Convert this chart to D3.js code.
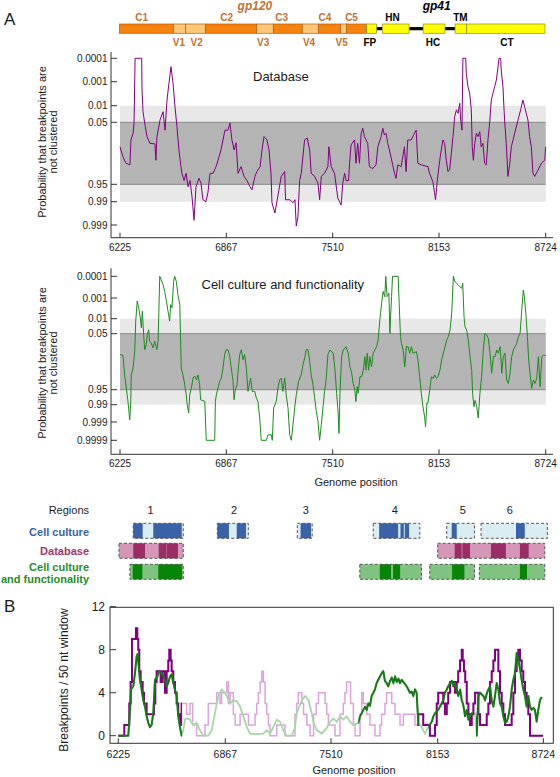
<!DOCTYPE html>
<html><head><meta charset="utf-8">
<script src="https://cdn.jsdelivr.net/npm/d3@7"></script>
<style>body{margin:0;background:#fff}svg{display:block;font-family:"Liberation Sans",Arial,sans-serif}</style>
</head><body><svg id="c" width="560" height="777"></svg>
<script>
// ---------------- DATA ----------------
const genomeTicks = [6225, 6867, 7510, 8153, 8724];
const probTicksA1 = [0.0001, 0.001, 0.01, 0.05, 0.95, 0.99, 0.999];
const probTicksA2 = [0.0001, 0.001, 0.01, 0.05, 0.95, 0.99, 0.999, 0.9999];
const countTicksB = [0, 4, 8, 12];

// gene map (genome positions)
const geneSegments = [
  ["C1",6221,6547,"C"],["V1",6547,6622,"V"],["V2",6622,6743,"V"],["C2",6743,7051,"C"],
  ["V3",7051,7151,"V"],["C3",7151,7326,"C"],["V4",7326,7423,"V"],["C4",7423,7558,"C"],
  ["V5",7558,7594,"V"],["C5",7594,7715,"C"],["FP",7715,7775,"G"],["HN",7811,7972,"G"],
  ["HC",8057,8185,"G"],["TM",8239,8301,"G"],["CT",8301,8720,"G"]
];
const geneLinks = [[7775,7811],[7972,8057],[8185,8239]];
const geneLabelsAbove = [["C1",6356,"gp120"],["C2",6869,"gp120"],["C3",7202,"gp120"],["C4",7463,"gp120"],["C5",7624,"gp120"],["HN",7872,"gp41"],["TM",8268,"gp41"]];
const geneLabelsBelow = [["V1",6581,"gp120"],["V2",6688,"gp120"],["V3",7090,"gp120"],["V4",7367,"gp120"],["V5",7564,"gp120"],["FP",7735,"gp41"],["HC",8117,"gp41"],["CT",8516,"gp41"]];
const proteinLabels = [["gp120",7040],["gp41",8139]];

// Panel A: probability that breakpoints are not clustered
const databaseProb = [[6225,0.35],[6243,0.58],[6261,0.72],[6285,0.75],[6291,0.22],[6304,0.13],[6310,0.053],[6316,0.0001],[6356,0.0001],[6358,0.0022],[6364,0.018],[6376,0.064],[6388,0.17],[6406,0.28],[6436,0.29],[6442,0.66],[6448,0.17],[6467,0.04],[6485,0.018],[6497,0.1],[6509,0.0058],[6521,0.0011],[6533,0.00023],[6545,0.0011],[6557,0.011],[6569,0.074],[6581,0.42],[6593,0.78],[6599,0.87],[6612,0.93],[6624,0.87],[6636,0.96],[6648,0.93],[6660,0.984],[6672,0.9984],[6684,0.96],[6702,0.915],[6714,0.944],[6726,0.988],[6744,0.99],[6756,0.977],[6769,0.87],[6787,0.87],[6805,0.78],[6817,0.66],[6835,0.42],[6847,0.22],[6859,0.1],[6877,0.1],[6889,0.053],[6901,0.22],[6914,0.42],[6926,0.27],[6938,0.87],[6956,0.78],[6974,0.9],[6992,0.93],[7010,0.96],[7022,0.97],[7040,0.9],[7052,0.85],[7071,0.78],[7083,0.42],[7095,0.17],[7113,0.22],[7125,0.42],[7137,0.87],[7143,0.991],[7161,0.9967],[7199,0.9],[7220,0.85],[7225,0.988],[7252,0.988],[7270,0.991],[7282,0.988],[7290,0.9991],[7300,0.9977],[7310,0.93],[7320,0.87],[7340,0.22],[7356,0.19],[7371,0.42],[7380,0.87],[7401,0.9],[7421,0.945],[7431,0.988],[7441,0.9],[7461,0.87],[7481,0.78],[7487,0.35],[7501,0.78],[7521,0.87],[7541,0.986],[7561,0.9928],[7571,0.945],[7582,0.87],[7591,0.93],[7606,0.93],[7612,0.72],[7621,0.31],[7642,0.22],[7651,0.72],[7661,0.28],[7672,0.72],[7682,0.13],[7692,0.085],[7702,0.17],[7722,0.28],[7732,0.78],[7752,0.81],[7772,0.75],[7783,0.35],[7803,0.17],[7813,0.085],[7823,0.15],[7833,0.13],[7843,0.28],[7853,0.42],[7873,0.75],[7884,0.87],[7893,0.915],[7904,0.75],[7924,0.78],[7944,0.35],[7954,0.85],[7964,0.22],[7984,0.22],[8005,0.13],[8015,0.1],[8025,0.72],[8045,0.75],[8086,0.78],[8096,0.87],[8116,0.937],[8126,0.977],[8132,0.988],[8142,0.937],[8157,0.66],[8165,0.42],[8174,0.22],[8183,0.28],[8192,0.66],[8201,0.85],[8210,0.83],[8219,0.5],[8228,0.17],[8237,0.029],[8246,0.015],[8255,0.021],[8264,0.0079],[8269,0.04],[8276,0.1],[8281,0.0001],[8296,0.0001],[8299,0.00044],[8308,0.0016],[8317,0.003],[8326,0.015],[8331,0.35],[8337,0.66],[8344,0.28],[8353,0.13],[8362,0.17],[8371,0.114],[8379,0.35],[8388,0.28],[8397,0.72],[8406,0.75],[8415,0.22],[8424,0.054],[8433,0.0058],[8442,0.003],[8451,0.0016],[8460,0.00085],[8469,0.00023],[8474,0.0001],[8483,0.0001],[8486,0.00032],[8495,0.0016],[8504,0.04],[8513,0.28],[8522,0.9],[8531,0.75],[8540,0.35],[8558,0.13],[8576,0.04],[8590,0.015],[8602,0.0058],[8611,0.011],[8620,0.021],[8629,0.04],[8638,0.17],[8647,0.35],[8656,0.87],[8665,0.9],[8683,0.83],[8701,0.72],[8719,0.66],[8724,0.35]];

const cultureFuncProb = [[6225,0.32],[6243,0.34],[6253,0.8],[6263,0.94],[6273,0.9855],[6284,0.99865],[6290,0.9855],[6293,0.8],[6304,0.66],[6314,0.25],[6320,0.013],[6329,0.0014],[6338,0.003],[6348,0.0093],[6354,0.027],[6360,0.0044],[6368,0.055],[6374,0.22],[6384,0.14],[6390,0.055],[6398,0.033],[6404,0.105],[6414,0.123],[6424,0.19],[6435,0.105],[6448,0.22],[6455,0.105],[6465,0.0001],[6485,0.00024],[6495,0.00049],[6505,0.0014],[6515,0.0044],[6525,0.013],[6531,0.0021],[6539,0.003],[6549,0.00017],[6555,0.0001],[6565,0.00017],[6575,0.0007],[6586,0.0021],[6595,0.66],[6605,0.8],[6616,0.918],[6625,0.971],[6631,0.99],[6640,0.9967],[6646,0.971],[6656,0.94],[6666,0.85],[6676,0.82],[6686,0.87],[6696,0.8],[6706,0.918],[6712,0.983],[6737,0.9855],[6746,0.9999],[6797,0.9999],[6801,0.9855],[6807,0.971],[6817,0.94],[6827,0.887],[6837,0.85],[6847,0.66],[6857,0.32],[6867,0.22],[6877,0.22],[6888,0.36],[6897,0.66],[6908,0.887],[6914,0.983],[6921,0.95],[6932,0.918],[6938,0.73],[6948,0.32],[6958,0.22],[6968,0.45],[6978,0.32],[6988,0.66],[6998,0.958],[7014,0.85],[7024,0.958],[7039,0.958],[7048,0.979],[7058,0.9855],[7069,0.9983],[7078,0.9999],[7109,0.9999],[7119,0.9998],[7139,0.9998],[7145,0.9999],[7153,0.9936],[7169,0.9855],[7179,0.94],[7190,0.87],[7199,0.85],[7209,0.958],[7220,0.85],[7229,0.971],[7240,0.9936],[7250,0.9998],[7260,0.9999],[7270,0.9993],[7280,0.9936],[7290,0.971],[7304,0.887],[7320,0.8],[7330,0.58],[7341,0.4],[7350,0.22],[7361,0.22],[7371,0.49],[7380,0.8],[7391,0.918],[7401,0.979],[7411,0.9958],[7421,0.9989],[7431,0.9999],[7441,0.9993],[7451,0.9936],[7461,0.958],[7471,0.85],[7481,0.32],[7493,0.226],[7513,0.29],[7524,0.71],[7534,0.966],[7543,0.9968],[7548,0.99976],[7554,0.966],[7564,0.37],[7574,0.226],[7590,0.171],[7604,0.29],[7614,0.63],[7625,0.77],[7634,0.907],[7644,0.951],[7650,0.986],[7658,0.933],[7664,0.966],[7675,0.83],[7685,0.83],[7695,0.71],[7705,0.37],[7711,0.71],[7719,0.29],[7727,0.71],[7735,0.37],[7745,0.63],[7755,0.29],[7765,0.226],[7775,0.171],[7785,0.093],[7795,0.0115],[7806,0.0018],[7815,0.0005],[7825,0.00087],[7831,0.0001],[7839,0.00087],[7850,0.0006],[7856,0.048],[7866,0.00087],[7872,0.0001],[7906,0.0001],[7912,0.0018],[7920,0.067],[7926,0.126],[7936,0.226],[7946,0.63],[7956,0.171],[7966,0.171],[7976,0.29],[7986,0.171],[7996,0.29],[8017,0.26],[8026,0.456],[8036,0.83],[8046,0.966],[8056,0.9923],[8066,0.998],[8072,0.99945],[8080,0.988],[8086,0.988],[8097,0.951],[8107,0.83],[8117,0.852],[8127,0.8],[8137,0.852],[8147,0.83],[8158,0.71],[8167,0.456],[8176,0.29],[8185,0.171],[8194,0.093],[8203,0.067],[8212,0.034],[8221,0.0055],[8230,0.0001],[8239,0.00018],[8256,0.00025],[8274,0.00036],[8280,0.00021],[8287,0.008],[8292,0.024],[8301,0.034],[8310,0.093],[8319,0.37],[8328,0.71],[8333,0.966],[8340,0.9923],[8346,0.984],[8355,0.9923],[8363,0.9983],[8372,0.966],[8381,0.83],[8390,0.226],[8399,0.048],[8408,0.057],[8417,0.08],[8426,0.29],[8435,0.77],[8444,0.37],[8453,0.37],[8462,0.226],[8470,0.29],[8480,0.171],[8489,0.77],[8497,0.37],[8506,0.29],[8515,0.873],[8524,0.907],[8533,0.77],[8542,0.37],[8551,0.226],[8560,0.171],[8569,0.126],[8578,0.067],[8587,0.048],[8596,0.0038],[8604,0.00043],[8610,0.00087],[8619,0.008],[8626,0.067],[8633,0.456],[8640,0.77],[8649,0.943],[8658,0.873],[8667,0.907],[8676,0.852],[8685,0.37],[8694,0.933],[8703,0.37],[8712,0.34],[8724,0.34]];

// Regions (genome positions; dark = strongly clustered parts)
const regionNumbers = [["1",6410],["2",6914],["3",7347],["4",7886],["5",8281],["6",8532]];
const cellCultureRegions = [
  {start:6305,end:6607,dark:[[6305,6362],[6426,6598]]},
  {start:6813,end:7000,dark:[[6813,6883],[6930,6986]]},
  {start:7296,end:7386,dark:[[7316,7379]]},
  {start:7755,end:8037,dark:[[7791,7906],[7920,7940],[7946,7972]]},
  {start:8194,end:8343,dark:[[8221,8248]]},
  {start:8378,end:8733,dark:[[8565,8612]]}
];
const databaseRegions = [
  {start:6219,end:6607,dark:[[6305,6376],[6459,6505],[6507,6575]]},
  {start:8145,end:8719,dark:[[8237,8274],[8278,8319],[8431,8511],[8586,8633]]}
];
const cultureFuncRegions = [
  {start:6285,end:6607,dark:[[6302,6360],[6456,6599]]},
  {start:7674,end:8047,dark:[[7795,7863],[7875,7918]]},
  {start:8097,end:8343,dark:[[8223,8289]]},
  {start:8369,end:8719,dark:[[8586,8624]]}
];

// Panel B: breakpoints per 50 nt window
const databaseCounts = [[6225,0],[6259,0],[6261,1],[6285,1],[6291,3],[6299,5],[6307,9],[6325,9],[6331,10],[6339,9],[6345,8],[6351,6],[6359,5],[6371,4],[6379,3],[6395,2],[6435,2],[6439,3],[6447,5],[6455,6],[6471,6],[6479,5],[6491,6],[6505,4],[6515,6],[6525,7],[6531,8],[6539,7],[6545,6],[6555,5],[6565,4],[6575,3],[6585,2],[6595,1],[6605,3],[6625,3],[6635,2],[6645,2],[6655,3],[6671,1],[6695,0],[6735,0],[6745,1],[6765,3],[6805,3],[6815,4],[6835,3],[6845,4],[6865,4],[6876,5],[6886,3],[6896,4],[6916,2],[6927,1],[6947,1],[6957,2],[6998,2],[7008,1],[7038,1],[7048,2],[7058,3],[7068,4],[7079,5],[7089,6],[7099,5],[7109,3],[7119,2],[7129,1],[7139,0],[7170,0],[7180,1],[7220,1],[7230,0],[7281,0],[7291,2],[7301,3],[7311,4],[7333,3],[7343,2],[7363,1],[7383,0],[7404,2],[7420,3],[7434,4],[7464,4],[7474,3],[7484,2],[7494,1],[7534,0],[7554,0],[7564,2],[7584,3],[7594,4],[7604,5],[7624,5],[7628,3],[7645,1],[7655,0],[7675,0],[7685,2],[7695,4],[7705,3],[7725,2],[7745,1],[7765,1],[7775,0],[7795,0],[7805,1],[7815,2],[7835,3],[7845,4],[7866,4],[7876,3],[7896,2],[7926,1],[7936,1],[7946,2],[8006,2],[8016,1],[8036,2],[8046,2],[8066,1],[8096,1],[8106,0],[8126,0],[8137,1],[8147,3],[8156,4],[8175,4],[8183,3],[8192,2],[8202,3],[8210,4],[8220,5],[8237,5],[8247,4],[8256,5],[8264,6],[8274,7],[8283,8],[8288,7],[8295,6],[8302,5],[8310,3],[8319,2],[8328,1],[8337,2],[8346,3],[8355,4],[8364,4],[8373,2],[8382,1],[8400,1],[8418,2],[8427,3],[8436,5],[8445,6],[8454,7],[8463,8],[8472,8],[8481,6],[8490,4],[8499,3],[8508,2],[8517,1],[8544,1],[8553,2],[8562,4],[8571,6],[8580,7],[8589,8],[8598,7],[8607,6],[8616,5],[8625,4],[8634,3],[8643,2],[8652,0],[8724,0]];

const cultureFuncCounts = [[6225,0],[6285,0],[6295,2.4],[6301,4.3],[6315,4.6],[6325,5.8],[6335,7.4],[6341,7.6],[6349,6.2],[6355,5.2],[6365,4.3],[6375,3.3],[6385,2.7],[6395,1.8],[6405,1.2],[6415,0.8],[6425,1.0],[6435,2.1],[6445,5.2],[6459,5.5],[6471,6.0],[6485,5.8],[6495,5.5],[6505,5.2],[6515,4.6],[6525,4.9],[6535,5.5],[6545,5.7],[6555,4.9],[6565,4.3],[6575,3.7],[6585,1.8],[6595,0.8],[6605,0],[6615,0.5],[6625,1.5],[6635,1.6],[6655,1.5],[6665,1.2],[6675,1.0],[6695,1.2],[6715,0.5],[6735,0],[6765,0],[6785,0.5],[6805,2.1],[6825,3.7],[6845,4.3],[6859,4.1],[6876,3.7],[6896,3.0],[6916,3.3],[6937,3.2],[6957,2.7],[6977,1.8],[6998,0.8],[7018,0.2],[7058,0.15],[7099,0.2],[7119,0.5],[7139,0.2],[7159,0.8],[7180,1.5],[7200,1.3],[7220,0.5],[7240,0],[7271,0],[7291,0.8],[7301,2.1],[7333,3.3],[7353,3.7],[7373,3.3],[7393,2.1],[7404,1.2],[7424,0.5],[7454,0.2],[7484,0.7],[7504,1.3],[7524,1.6],[7544,1.3],[7564,1.8],[7584,1.5],[7604,1.8],[7624,1.3],[7645,1.0],[7675,1.2],[7685,1.8],[7695,2.1],[7705,2.4],[7715,2.7],[7725,2.4],[7735,3.0],[7745,2.8],[7755,3.7],[7765,4.0],[7775,4.3],[7785,4.9],[7795,5.2],[7805,5.5],[7815,5.8],[7825,6.0],[7835,5.1],[7845,4.9],[7855,4.6],[7866,5.1],[7876,5.4],[7886,4.9],[7896,5.5],[7906,5.0],[7916,5.3],[7926,4.9],[7936,5.2],[7956,4.8],[7966,4.6],[7976,4.3],[7986,4.0],[7996,4.1],[8006,3.7],[8016,4.3],[8026,4.0],[8036,1.2],[8056,0.8],[8076,0.2],[8086,0.5],[8096,0.8],[8117,1.3],[8127,1.8],[8137,2.1],[8156,2.4],[8165,2.7],[8183,3.3],[8192,4.0],[8202,4.3],[8210,4.6],[8220,4.9],[8229,5.1],[8237,4.6],[8247,4.9],[8256,4.3],[8264,3.7],[8274,4.3],[8283,3.3],[8291,2.9],[8301,1.8],[8310,2.4],[8319,1.5],[8328,1.8],[8337,2.1],[8355,2.1],[8364,0],[8373,3.7],[8382,4.0],[8400,3.7],[8409,3.3],[8418,3.9],[8427,4.3],[8436,4.6],[8445,3.3],[8454,2.7],[8463,3.7],[8472,4.9],[8481,4.3],[8490,3.0],[8499,2.7],[8508,1.8],[8517,1.2],[8526,1.3],[8535,1.8],[8544,2.7],[8553,4.3],[8562,5.2],[8571,5.8],[8580,7.7],[8589,7.1],[8598,6.2],[8607,5.2],[8616,4.3],[8625,3.7],[8634,2.7],[8643,3.7],[8652,2.7],[8661,2.4],[8670,2.6],[8679,2.4],[8688,1.3],[8697,2.4],[8706,3.3],[8715,3.6]];

// genome windows where the B curves are drawn in the strong colour
const databaseStrongWindows = [[6219,6607],[8030,8724]];
const cultureFuncStrongWindows = [[6225,6607],[7674,8040],[8097,8346],[8360,8724]];

// ---------------- DRAWING ----------------
const svg = d3.select("#c");
const logit = p => Math.log(p / (1 - p));
const xA = d3.scaleLinear().domain(genomeTicks).range([120, 226.3, 332.7, 439, 545.7]);
const xB = d3.scaleLinear().domain(genomeTicks).range([118.3, 225.3, 331, 437.7, 543.3]);
const yA1lin = d3.scaleLinear().domain(probTicksA1.map(logit)).range([58.3, 81.7, 105.7, 122.3, 184.3, 201.7, 225]);
const yA2lin = d3.scaleLinear().domain(probTicksA2.map(logit)).range([276.3, 298, 318.7, 333.7, 389.7, 404.7, 422, 440.3]);
const yA1 = p => yA1lin(logit(p));
const yA2 = p => yA2lin(logit(p));
const yB = d3.scaleLinear().domain([0, 12]).range([735.7, 606.7]);

const AXIS = "#333";
const TXT = "#1a1a1a";
const BROWN = "#c07232";

// panel letters
svg.append("text").attr("x", 4).attr("y", 25).attr("font-size", 17).attr("fill", TXT).text("A");
svg.append("text").attr("x", 4).attr("y", 612).attr("font-size", 17).attr("fill", TXT).text("B");

// ---- gene map ----
const gm = svg.append("g");
const barTop = 24, barH = 9.3;
gm.selectAll("line.link").data(geneLinks).join("line")
  .attr("x1", d => xA(d[0])).attr("x2", d => xA(d[1]))
  .attr("y1", barTop + barH / 2).attr("y2", barTop + barH / 2)
  .attr("stroke", "#000").attr("stroke-width", 3.2);
const segFill = { C: "#f7830f", V: "#fdc878", G: "#ffff00" };
const segStroke = { C: "#b25b12", V: "#b25b12", G: "#8c8c2a" };
gm.selectAll("rect.seg").data(geneSegments).join("rect")
  .attr("x", d => xA(d[1])).attr("width", d => xA(d[2]) - xA(d[1]))
  .attr("y", barTop).attr("height", barH)
  .attr("fill", d => segFill[d[3]]).attr("stroke", d => segStroke[d[3]]).attr("stroke-width", 0.7);
gm.selectAll("text.ab").data(geneLabelsAbove).join("text")
  .attr("x", d => xA(d[1])).attr("y", 21).attr("text-anchor", "middle")
  .attr("font-size", 10).attr("font-weight", "bold")
  .attr("fill", d => d[2] === "gp120" ? BROWN : "#000").text(d => d[0]);
gm.selectAll("text.be").data(geneLabelsBelow).join("text")
  .attr("x", d => xA(d[1])).attr("y", 46).attr("text-anchor", "middle")
  .attr("font-size", 10).attr("font-weight", "bold")
  .attr("fill", d => d[2] === "gp120" ? BROWN : "#000").text(d => d[0]);
gm.selectAll("text.pr").data(proteinLabels).join("text")
  .attr("x", d => xA(d[1])).attr("y", 9.5).attr("text-anchor", "middle")
  .attr("font-size", 12).attr("font-weight", "bold").attr("font-style", "italic")
  .attr("fill", d => d[0] === "gp120" ? BROWN : "#000").text(d => d[0]);

// ---- probability panels ----
function probPanel(yf, ticks, data, color, axisTop, axisBottom, title, titleX, titleY, labelCenterY) {
  const g = svg.append("g");
  const x0 = xA(genomeTicks[0]), x1 = xA(genomeTicks[genomeTicks.length - 1]);
  g.append("rect").attr("x", x0).attr("width", x1 - x0)
    .attr("y", yf(0.01)).attr("height", yf(0.99) - yf(0.01)).attr("fill", "#e8e8e8");
  g.append("rect").attr("x", x0).attr("width", x1 - x0)
    .attr("y", yf(0.05)).attr("height", yf(0.95) - yf(0.05)).attr("fill", "#b4b4b4");
  [0.05, 0.95].forEach(p => g.append("line").attr("x1", x0).attr("x2", x1)
    .attr("y1", yf(p)).attr("y2", yf(p)).attr("stroke", "#8a8a8a").attr("stroke-width", 1));
  const line = d3.line().x(d => xA(d[0])).y(d => yf(d[1]));
  g.append("path").datum(data).attr("d", line).attr("fill", "none")
    .attr("stroke", color).attr("stroke-width", 1).attr("stroke-linejoin", "round");
  // axes
  g.append("line").attr("x1", 111).attr("x2", 111).attr("y1", axisTop).attr("y2", axisBottom).attr("stroke", AXIS);
  g.append("line").attr("x1", 111).attr("x2", 553).attr("y1", axisBottom).attr("y2", axisBottom).attr("stroke", AXIS);
  g.selectAll("line.yt").data(ticks).join("line")
    .attr("x1", 111).attr("x2", 117).attr("y1", d => yf(d)).attr("y2", d => yf(d)).attr("stroke", AXIS);
  g.selectAll("text.yt").data(ticks).join("text")
    .attr("x", 107.5).attr("y", d => yf(d)).attr("dy", "0.35em").attr("text-anchor", "end")
    .attr("font-size", 10).attr("fill", TXT).text(d => String(d));
  g.selectAll("line.xt").data(genomeTicks).join("line")
    .attr("x1", d => xA(d)).attr("x2", d => xA(d)).attr("y1", axisBottom).attr("y2", axisBottom - 5).attr("stroke", AXIS);
  g.selectAll("text.xt").data(genomeTicks).join("text")
    .attr("x", d => xA(d)).attr("y", axisBottom + 13).attr("text-anchor", "middle")
    .attr("font-size", 10).attr("fill", TXT).text(d => d);
  g.append("text").attr("x", titleX).attr("y", titleY).attr("font-size", 13).attr("fill", TXT).text(title);
  const yl = g.append("text").attr("transform", `translate(46,${labelCenterY}) rotate(-90)`)
    .attr("text-anchor", "middle").attr("font-size", 11).attr("fill", TXT);
  yl.append("tspan").attr("x", 0).attr("dy", 0).text("Probability that breakpoints are");
  yl.append("tspan").attr("x", 0).attr("dy", 11).text("not clustered");
}
probPanel(yA1, probTicksA1, databaseProb, "#800080", 52, 237.7, "Database", 253, 81, 142);
probPanel(yA2, probTicksA2, cultureFuncProb, "#1e8a1e", 268.3, 454.3, "Cell culture and functionality", 201.5, 288.5, 363);
svg.append("text").attr("x", 356).attr("y", 485.5).attr("text-anchor", "middle")
  .attr("font-size", 11).attr("fill", TXT).text("Genome position");

// ---- regions ----
const rg = svg.append("g");
rg.append("text").attr("x", 89).attr("y", 514).attr("text-anchor", "end").attr("font-size", 11).attr("fill", TXT).text("Regions");
rg.selectAll("text.num").data(regionNumbers).join("text")
  .attr("x", d => xA(d[1])).attr("y", 514).attr("text-anchor", "middle")
  .attr("font-size", 11).attr("fill", TXT).text(d => d[0]);
const rows = [
  { data: cellCultureRegions, top: 523.3, light: "#d9edf3", dark: "#3a62a6", labels: ["Cell culture"], ly: [535.5], col: "#3a62a6" },
  { data: databaseRegions, top: 543.3, light: "#d597b8", dark: "#9b2d66", labels: ["Database"], ly: [555], col: "#a0346c" },
  { data: cultureFuncRegions, top: 564.3, light: "#80c280", dark: "#078507", labels: ["Cell culture", "and functionality"], ly: [570.5, 583.3], col: "#268c26" }
];
const rowH = 15;
rows.forEach(r => {
  const g = rg.append("g");
  r.data.forEach(reg => {
    g.append("rect").attr("x", xA(reg.start)).attr("width", xA(reg.end) - xA(reg.start))
      .attr("y", r.top).attr("height", rowH).attr("fill", r.light);
    g.selectAll(null).data(reg.dark).join("rect")
      .attr("x", d => xA(d[0])).attr("width", d => xA(d[1]) - xA(d[0]))
      .attr("y", r.top).attr("height", rowH).attr("fill", r.dark);
    g.append("rect").attr("x", xA(reg.start)).attr("width", xA(reg.end) - xA(reg.start))
      .attr("y", r.top).attr("height", rowH).attr("fill", "none")
      .attr("stroke", "#555").attr("stroke-width", 1).attr("stroke-dasharray", "3,2");
  });
  r.labels.forEach((t, i) => g.append("text").attr("x", 89).attr("y", r.ly[i]).attr("text-anchor", "end")
    .attr("font-size", 11).attr("font-weight", "bold").attr("fill", r.col).text(t));
});

// ---- panel B ----
const gb = svg.append("g");
const defs = svg.append("defs");
function clipFor(id, windows) {
  const cp = defs.append("clipPath").attr("id", id);
  cp.selectAll("rect").data(windows).join("rect")
    .attr("x", d => xB(d[0])).attr("width", d => xB(d[1]) - xB(d[0]))
    .attr("y", 600).attr("height", 150);
}
clipFor("clipDb", databaseStrongWindows);
clipFor("clipCf", cultureFuncStrongWindows);
const stepLine = d3.line().x(d => xB(d[0])).y(d => yB(d[1])).curve(d3.curveStepAfter);
const smoothLine = d3.line().x(d => xB(d[0])).y(d => yB(d[1]));
gb.append("path").datum(databaseCounts).attr("d", stepLine).attr("fill", "none").attr("stroke", "#d9a6d9").attr("stroke-width", 1.5);
gb.append("path").datum(cultureFuncCounts).attr("d", smoothLine).attr("fill", "none").attr("stroke", "#a9d6a9").attr("stroke-width", 1.8);
gb.append("path").datum(databaseCounts).attr("d", stepLine).attr("fill", "none").attr("stroke", "#800080").attr("stroke-width", 2).attr("clip-path", "url(#clipDb)");
gb.append("path").datum(cultureFuncCounts).attr("d", smoothLine).attr("fill", "none").attr("stroke", "#157a15").attr("stroke-width", 2).attr("stroke-linejoin", "round").attr("clip-path", "url(#clipCf)");
gb.append("rect").attr("x", 110).attr("y", 607.3).attr("width", 443.3).attr("height", 136)
  .attr("fill", "none").attr("stroke", AXIS).attr("stroke-width", 1);
gb.selectAll("line.yt").data(countTicksB).join("line")
  .attr("x1", 110).attr("x2", 116).attr("y1", d => yB(d)).attr("y2", d => yB(d)).attr("stroke", AXIS);
gb.selectAll("text.yt").data(countTicksB).join("text")
  .attr("x", 105).attr("y", d => yB(d)).attr("dy", "0.35em").attr("text-anchor", "end")
  .attr("font-size", 12).attr("fill", TXT).text(d => d);
gb.selectAll("line.xt").data(genomeTicks).join("line")
  .attr("x1", d => xB(d)).attr("x2", d => xB(d)).attr("y1", 743.3).attr("y2", 738.3).attr("stroke", AXIS);
gb.selectAll("text.xt").data(genomeTicks).join("text")
  .attr("x", d => xB(d)).attr("y", 758).attr("text-anchor", "middle")
  .attr("font-size", 10.5).attr("fill", TXT).text(d => d);
gb.append("text").attr("x", 354).attr("y", 774).attr("text-anchor", "middle").attr("font-size", 11).attr("fill", TXT).text("Genome position");
gb.append("text").attr("transform", "translate(67.5,680) rotate(-90)").attr("text-anchor", "middle")
  .attr("font-size", 12).attr("fill", TXT).text("Breakpoints / 50 nt window");
</script></body></html>
